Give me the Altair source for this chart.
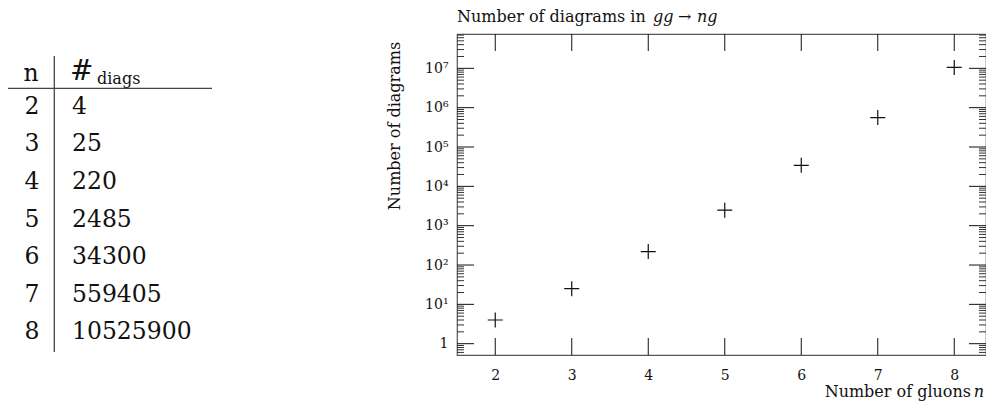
import altair as alt
import pandas as pd

# ---- data ----
n_gluons = [2, 3, 4, 5, 6, 7, 8]
n_diagrams = [4, 25, 220, 2485, 34300, 559405, 10525900]
x_ticks = [2, 3, 4, 5, 6, 7, 8]
y_major = [1, 10, 100, 1000, 10000, 100000, 1000000, 10000000]

X_DOMAIN = [1.5, 8.415]
Y_DOMAIN = [0.516, 7.46e7]
y_minor = [m * 10.0 ** k for k in range(-1, 8) for m in range(2, 10)
           if Y_DOMAIN[0] < m * 10.0 ** k < Y_DOMAIN[1]]

W, H = 529, 321
PF = "DejaVu Serif"
TF = "DejaVu Serif"
INK = "#111111"
BOX = "#555555"

xscale = alt.Scale(domain=X_DOMAIN, nice=False, zero=False)
yscale = alt.Scale(type="log", domain=Y_DOMAIN, nice=False)

sup = {1: "¹", 2: "²", 3: "³", 4: "⁴", 5: "⁵", 6: "⁶", 7: "⁷"}
label_expr = "'1'"
for k in range(1, 8):
    label_expr = f"datum.value == {10 ** k} ? '10{sup[k]}' : " + label_expr

pts_df = pd.DataFrame({"x": n_gluons, "y": n_diagrams})
points = alt.Chart(pts_df).mark_point(
    shape="M-1,0L1,0M0,-1L0,1", size=225, filled=False,
    color=INK, strokeWidth=1.2, opacity=1
).encode(
    x=alt.X("x:Q", scale=xscale, axis=alt.Axis(
        values=x_ticks, format="d", ticks=False, domain=False, grid=False,
        labelFont=PF, labelFontSize=14, labelPadding=13, labelColor=INK, title=None)),
    y=alt.Y("y:Q", scale=yscale, axis=alt.Axis(
        values=y_major, labelExpr=label_expr, ticks=False, domain=False, grid=False,
        labelFont=PF, labelFontSize=14, labelPadding=9, labelColor=INK, title=None)),
)

ymaj_df = pd.DataFrame({"y": y_major})
ymin_df = pd.DataFrame({"y": y_minor})
xt_df = pd.DataFrame({"x": x_ticks})


def yrule(df, x1, x2, color):
    return alt.Chart(df).mark_rule(color=color, strokeWidth=1).encode(
        y=alt.Y("y:Q", scale=yscale), x=alt.value(x1), x2=alt.value(x2))


def xrule(y1, y2):
    return alt.Chart(xt_df).mark_rule(color=INK, strokeWidth=1).encode(
        x=alt.X("x:Q", scale=xscale), y=alt.value(y1), y2=alt.value(y2))


ticks = [
    yrule(ymaj_df, 0, 17, INK), yrule(ymaj_df, W, W - 17, INK),
    yrule(ymin_df, 0, 7, "#333333"), yrule(ymin_df, W, W - 7, "#333333"),
    xrule(H, H - 17), xrule(0, 17),
]


def label(text, x, y, size, align="left", style="normal", font=PF, angle=0):
    return alt.Chart(alt.Data(values=[{}])).mark_text(
        text=text, font=font, fontSize=size, align=align, baseline="middle",
        fontStyle=style, color=INK, angle=angle
    ).encode(x=alt.value(x), y=alt.value(y))


TY = -17
titles = [
    label("Number of diagrams in", 0, TY, 16),
    label("gg", 196, TY, 16, style="italic"),
    label("→", 221, TY, 16),
    label("ng", 240, TY, 16, style="italic"),
    label("Number of gluons", 514, H + 37, 16, align="right"),
    label("n", 527, H + 37, 16, align="right", style="italic"),
    label("Number of diagrams", -62, 92, 16, align="center", angle=270),
]

plot = alt.layer(*ticks, points, *titles)

# ---- table on the left ----
tbl_df = pd.DataFrame({
    "row": list(range(len(n_gluons))),
    "n": [str(v) for v in n_gluons],
    "d": [str(v) for v in n_diagrams],
})
tbl_y = alt.Scale(domain=[0, 6], range=[72.7, 298.3])
col1 = alt.Chart(tbl_df).mark_text(
    font=TF, fontSize=23.5, align="center", baseline="middle", color=INK
).encode(y=alt.Y("row:Q", scale=tbl_y, axis=None), x=alt.value(-425), text="n:N")
col2 = alt.Chart(tbl_df).mark_text(
    font=TF, fontSize=23.5, align="left", baseline="middle", color=INK
).encode(y=alt.Y("row:Q", scale=tbl_y, axis=None), x=alt.value(-385), text="d:N")

hdr = [
    label("n", -426, 40, 23.5, align="center", font=TF),
    label("#", -387, 38, 28, font=TF),
    label("diags", -360, 45, 16, font=TF),
]
hline = alt.Chart(alt.Data(values=[{}])).mark_rule(color="#444444", strokeWidth=1.3).encode(
    x=alt.value(-449), x2=alt.value(-245), y=alt.value(54.3))
vline = alt.Chart(alt.Data(values=[{}])).mark_rule(color="#444444", strokeWidth=1.3).encode(
    x=alt.value(-402.7), y=alt.value(22), y2=alt.value(318))

table = alt.layer(col1, col2, *hdr, hline, vline)

chart = alt.layer(plot, table).resolve_scale(x="independent", y="independent").properties(
    width=W, height=H,
    autosize=alt.AutoSizeParams(type="none"),
    padding={"left": 449, "top": 26, "right": 0, "bottom": 53},
).configure_view(stroke=BOX, strokeWidth=1.2)

chart.save("out.html", embed_options={"renderer": "svg", "actions": False})
